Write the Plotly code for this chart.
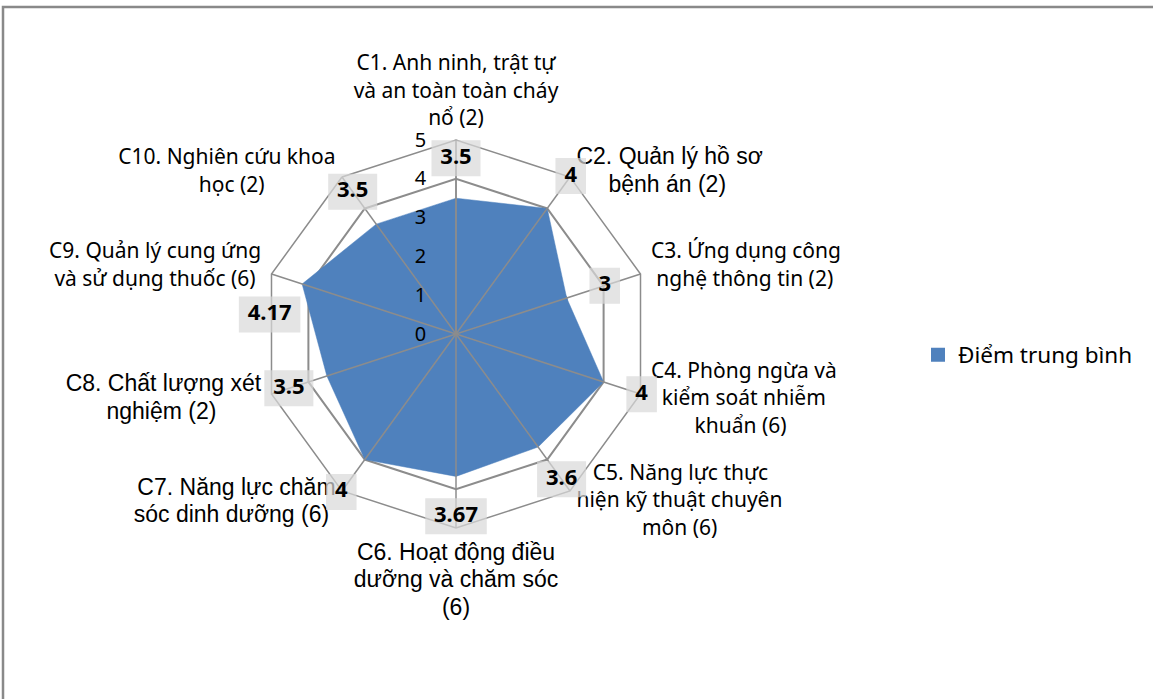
import plotly.graph_objects as go

S = "\u00a0"  # non-breaking space, used to centre the wrapped lines


def L(n):
    return S * n


ARIAL = "font-family:Liberation Sans;font-size:23px;"
category_names = [
    "C1. Anh ninh, trật tự<br>và an toàn toàn cháy<br>nổ (2)",
    "C2. Quản lý hồ sơ<br>" + L(5) + "bệnh án (2)",
    "C3. Ứng dụng công<br>" + L(1) + "nghệ thông tin (2)",
    "C4. Phòng ngừa và<br>" + L(2) + "kiểm soát nhiễm<br>" + L(8) + "khuẩn (6)",
    L(3) + "C5. Năng lực thực<br>hiện kỹ thuật chuyên<br>" + L(12) + "môn (6)",
    "C6. Hoạt động điều<br>dưỡng và chăm sóc<br>(6)",
    "C7. Năng lực chăm<br>sóc dinh dưỡng (6)" + L(1),
    "C8. Chất lượng xét<br>nghiệm (2)" + L(7),
    "C9. Quản lý cung ứng<br>và sử dụng thuốc (6)" + L(1),
    "C10. Nghiên cứu khoa<br>học (2)" + L(13),
]
values = [3.5, 4, 3, 4, 3.6, 3.67, 4, 3.5, 4.17, 3.5]
value_text = ["3.5", "4", "3", "4", "3.6", "3.67", "4", "3.5", "4.17", "3.5"]
series_name = "Điểm trung bình"
radial_ticks = [0, 1, 2, 3, 4, 5]

# per-label typography (style only)
label_font = {1: ARIAL, 5: ARIAL, 6: ARIAL, 7: ARIAL}
label_shift = {1: -20, 3: 14, 4: 36, 6: 24, 7: 10, 9: -20}   # px, + = up


def styled(i, name):
    style = label_font.get(i, "")
    if i in label_shift:
        style += "baseline-shift:%dpx;" % label_shift[i]
    return "<span style='%s'>%s</span>" % (style, name) if style else name


categories = [styled(i, c) for i, c in enumerate(category_names)]

BLUE = "#4f81bd"
GRID = "#8c8c8c"
LABEL_BG = "#d9d9d9"
r_max = radial_ticks[-1]
label_offset = 1.03
label_nudges = {8: (-0.37, -12)}   # (radial, degrees) tweak for the C9 data label

fig = go.Figure()

# filled series
fig.add_trace(go.Scatterpolar(
    r=values + values[:1], theta=categories + categories[:1],
    mode="lines", fill="toself", fillcolor=BLUE,
    line=dict(color=BLUE, width=0.5), showlegend=False, hoverinfo="skip",
))

# spokes drawn over the fill
spoke_r, spoke_t = [], []
for c in categories:
    spoke_r += [0, r_max, None]
    spoke_t += [c, c, None]
fig.add_trace(go.Scatterpolar(
    r=spoke_r, theta=spoke_t, mode="lines",
    line=dict(color=GRID, width=1.5), showlegend=False, hoverinfo="skip",
))

# data labels on an overlaid, invisible polar with a numeric angular axis
n = len(categories)
lab_r, lab_t = [], []
for i, v in enumerate(values):
    dr, dt = label_nudges.get(i, (0, 0))
    lab_r.append(v + label_offset + dr)
    lab_t.append(i * 360 / n + dt)
box_w = [18 + 12.5 * len(t.replace(".", "")) + (6 if "." in t else 0) for t in value_text]
fig.add_trace(go.Scatterpolar(
    r=lab_r, theta=lab_t, subplot="polar2",
    mode="markers+text", text=["<b>%s</b>" % t for t in value_text],
    textposition="middle center",
    textfont=dict(family="Noto Sans", size=22, color="black"),
    marker=dict(symbol="line-ew", size=[w / 1.4 for w in box_w], color=LABEL_BG,
                line=dict(color=LABEL_BG, width=36)),
    showlegend=False, hoverinfo="skip", cliponaxis=False,
))

# legend entry
fig.add_trace(go.Scatterpolar(
    r=[None], theta=[categories[0]], mode="markers", name=series_name,
    marker=dict(symbol="square", size=14, color=BLUE),
))

cx, cy, rad = 456, 334, 194
W, H = 1153, 699
r2_max = r_max + 1
rad2 = rad * r2_max / r_max
fig.update_layout(
    width=W, height=H,
    margin=dict(l=0, r=0, t=0, b=0),
    paper_bgcolor="white", plot_bgcolor="white",
    font=dict(family="Noto Sans", size=21, color="black"),
    polar=dict(
        domain=dict(x=[(cx - rad) / W, (cx + rad) / W],
                    y=[(H - cy - rad) / H, (H - cy + rad) / H]),
        bgcolor="white",
        gridshape="linear",
        angularaxis=dict(
            rotation=90, direction="clockwise",
            showgrid=False, showline=True, linecolor=GRID, linewidth=1.5,
            ticks="outside", ticklen=6, tickcolor="rgba(0,0,0,0)",
            tickfont=dict(family="Noto Sans", size=21, color="black"),
        ),
        radialaxis=dict(
            range=[0, r_max], tickvals=radial_ticks, angle=90, tickangle=90,
            showline=True, linecolor=GRID, linewidth=1.5,
            showgrid=True, gridcolor=GRID, gridwidth=1.5,
            ticks="outside", ticklen=22, tickcolor="rgba(0,0,0,0)",
            side="counterclockwise",
            tickfont=dict(family="Noto Sans", size=20, color="black"),
        ),
    ),
    polar2=dict(
        domain=dict(x=[(cx - rad2) / W, (cx + rad2) / W],
                    y=[(H - cy - rad2) / H, (H - cy + rad2) / H]),
        bgcolor="rgba(0,0,0,0)",
        angularaxis=dict(type="linear", thetaunit="degrees", rotation=90,
                         direction="clockwise", visible=False),
        radialaxis=dict(range=[0, r2_max], visible=False),
    ),
    legend=dict(x=918 / W, y=(H - 355) / H, xanchor="left", yanchor="middle",
                font=dict(family="Noto Sans", size=22.5, color="black"),
                itemwidth=30),
    shapes=[dict(type="rect", xref="paper", yref="paper",
                 x0=3 / W, x1=1.02, y0=-0.05, y1=1 - 7 / H,
                 line=dict(color="#898989", width=2.5), fillcolor="rgba(0,0,0,0)",
                 layer="below")],
)

fig.write_html("out.html", config={"displayModeBar": False},
               post_script="document.body.style.margin='0';")
